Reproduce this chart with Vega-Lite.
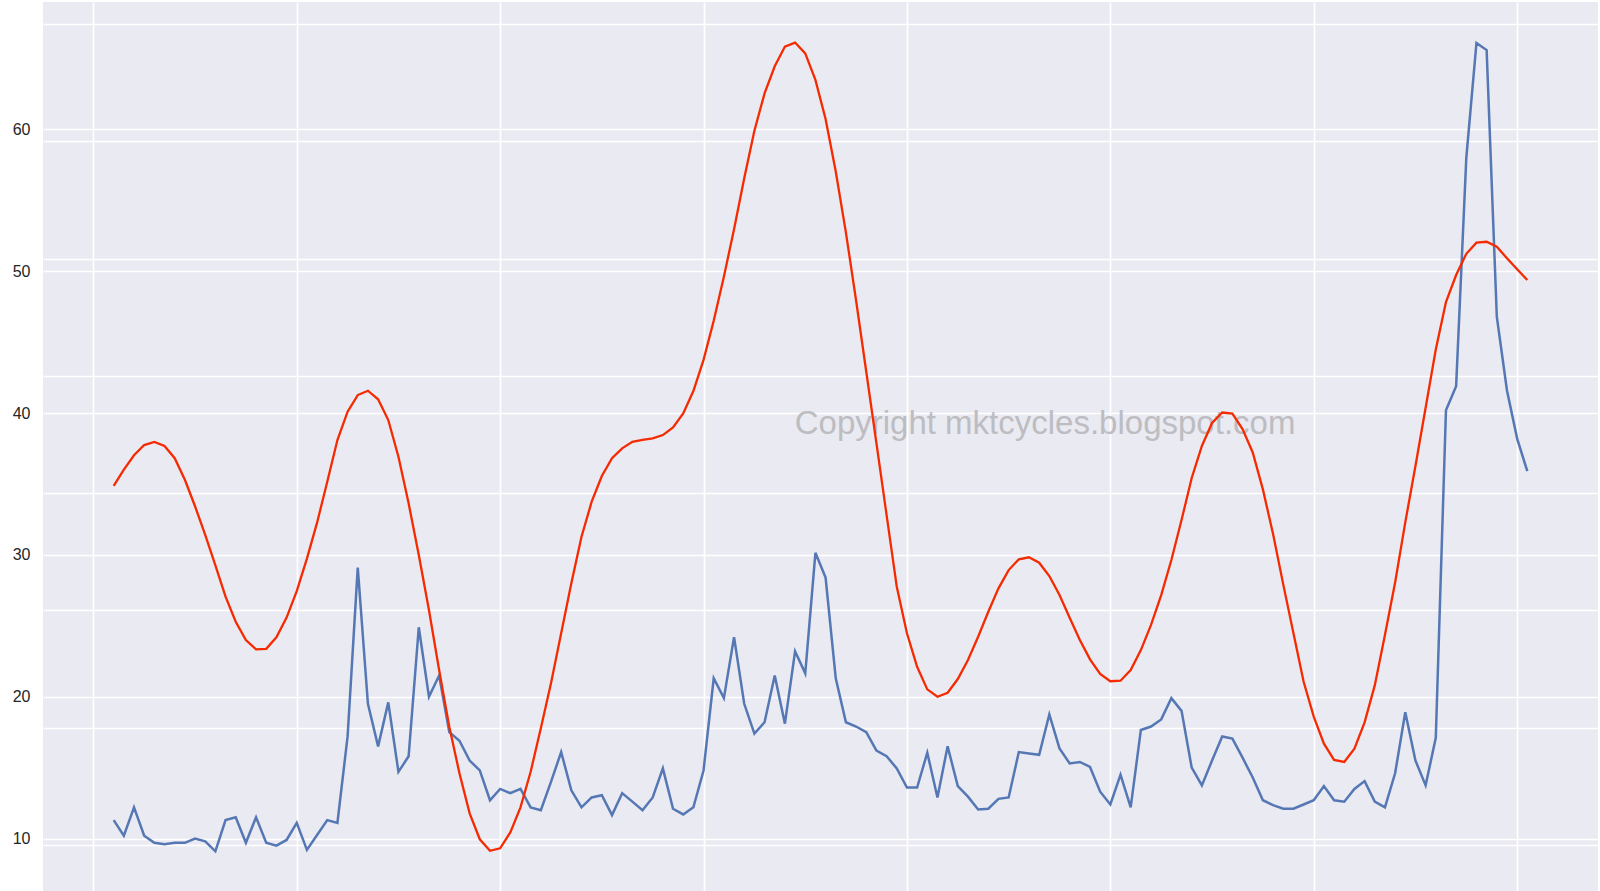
{
  "$schema": "https://vega.github.io/schema/vega-lite/v6.json",
  "width": 1555,
  "height": 889,
  "autosize": {"type": "none"},
  "padding": {"left": 43, "top": 2, "right": 0, "bottom": 0},
  "background": "white",
  "config": {
    "view": {"fill": "#EAEAF2", "stroke": null},
    "axis": {
      "grid": true,
      "gridColor": "#ffffff",
      "gridWidth": 1.7,
      "domain": false,
      "ticks": false,
      "labelFont": "Liberation Sans",
      "labelFontSize": 16,
      "labelColor": "#262626",
      "title": null
    }
  },
  "data": {
    "values": [
      {"idx": 2, "value": 11.3, "cycle": 30.62},
      {"idx": 3, "value": 10.2, "cycle": 32.01},
      {"idx": 4, "value": 12.2, "cycle": 33.23},
      {"idx": 5, "value": 10.2, "cycle": 34.10},
      {"idx": 6, "value": 9.7, "cycle": 34.36},
      {"idx": 7, "value": 9.6, "cycle": 34.02},
      {"idx": 8, "value": 9.7, "cycle": 32.98},
      {"idx": 9, "value": 9.7, "cycle": 31.14},
      {"idx": 10, "value": 10.0, "cycle": 28.88},
      {"idx": 11, "value": 9.8, "cycle": 26.45},
      {"idx": 12, "value": 9.1, "cycle": 23.84},
      {"idx": 13, "value": 11.3, "cycle": 21.17},
      {"idx": 14, "value": 11.5, "cycle": 19.04},
      {"idx": 15, "value": 9.7, "cycle": 17.48},
      {"idx": 16, "value": 11.5, "cycle": 16.68},
      {"idx": 17, "value": 9.7, "cycle": 16.73},
      {"idx": 18, "value": 9.5, "cycle": 17.71},
      {"idx": 19, "value": 9.9, "cycle": 19.39},
      {"idx": 20, "value": 11.1, "cycle": 21.65},
      {"idx": 21, "value": 9.2, "cycle": 24.42},
      {"idx": 22, "value": 10.25, "cycle": 27.48},
      {"idx": 23, "value": 11.3, "cycle": 30.97},
      {"idx": 24, "value": 11.1, "cycle": 34.53},
      {"idx": 25, "value": 17.2, "cycle": 36.94},
      {"idx": 26, "value": 29.1, "cycle": 38.36},
      {"idx": 27, "value": 19.5, "cycle": 38.73},
      {"idx": 28, "value": 16.5, "cycle": 38.00},
      {"idx": 29, "value": 19.6, "cycle": 36.23},
      {"idx": 30, "value": 14.7, "cycle": 33.10},
      {"idx": 31, "value": 15.8, "cycle": 29.13},
      {"idx": 32, "value": 24.9, "cycle": 24.72},
      {"idx": 33, "value": 20.0, "cycle": 20.03},
      {"idx": 34, "value": 21.5, "cycle": 14.92},
      {"idx": 35, "value": 17.5, "cycle": 10.09},
      {"idx": 36, "value": 16.9, "cycle": 6.11},
      {"idx": 37, "value": 15.5, "cycle": 2.70},
      {"idx": 38, "value": 14.8, "cycle": 0.49},
      {"idx": 39, "value": 12.7, "cycle": -0.49},
      {"idx": 40, "value": 13.5, "cycle": -0.28},
      {"idx": 41, "value": 13.2, "cycle": 1.08},
      {"idx": 42, "value": 13.5, "cycle": 3.21},
      {"idx": 43, "value": 12.2, "cycle": 6.25},
      {"idx": 44, "value": 12.0, "cycle": 9.95},
      {"idx": 45, "value": 14.0, "cycle": 13.79},
      {"idx": 46, "value": 16.1, "cycle": 18.05},
      {"idx": 47, "value": 13.4, "cycle": 22.31},
      {"idx": 48, "value": 12.2, "cycle": 26.28},
      {"idx": 49, "value": 12.9, "cycle": 29.27},
      {"idx": 50, "value": 13.05, "cycle": 31.46},
      {"idx": 51, "value": 11.65, "cycle": 32.97},
      {"idx": 52, "value": 13.2, "cycle": 33.82},
      {"idx": 53, "value": 12.6, "cycle": 34.38},
      {"idx": 54, "value": 12.0, "cycle": 34.53},
      {"idx": 55, "value": 12.9, "cycle": 34.67},
      {"idx": 56, "value": 14.95, "cycle": 34.95},
      {"idx": 57, "value": 12.1, "cycle": 35.61},
      {"idx": 58, "value": 11.7, "cycle": 36.80},
      {"idx": 59, "value": 12.2, "cycle": 38.70},
      {"idx": 60, "value": 14.8, "cycle": 41.36},
      {"idx": 61, "value": 21.3, "cycle": 44.69},
      {"idx": 62, "value": 19.9, "cycle": 48.45},
      {"idx": 63, "value": 24.2, "cycle": 52.50},
      {"idx": 64, "value": 19.5, "cycle": 56.84},
      {"idx": 65, "value": 17.4, "cycle": 60.90},
      {"idx": 66, "value": 18.2, "cycle": 64.08},
      {"idx": 67, "value": 21.5, "cycle": 66.39},
      {"idx": 68, "value": 18.1, "cycle": 68.07},
      {"idx": 69, "value": 23.2, "cycle": 68.41},
      {"idx": 70, "value": 21.65, "cycle": 67.49},
      {"idx": 71, "value": 30.15, "cycle": 65.23},
      {"idx": 72, "value": 28.4, "cycle": 61.90},
      {"idx": 73, "value": 21.3, "cycle": 57.42},
      {"idx": 74, "value": 18.2, "cycle": 52.21},
      {"idx": 75, "value": 17.9, "cycle": 46.42},
      {"idx": 76, "value": 17.5, "cycle": 40.35},
      {"idx": 77, "value": 16.2, "cycle": 34.27},
      {"idx": 78, "value": 15.8, "cycle": 28.13},
      {"idx": 79, "value": 14.95, "cycle": 22.02},
      {"idx": 80, "value": 13.6, "cycle": 18.05},
      {"idx": 81, "value": 13.6, "cycle": 15.20},
      {"idx": 82, "value": 16.05, "cycle": 13.27},
      {"idx": 83, "value": 12.9, "cycle": 12.64},
      {"idx": 84, "value": 16.5, "cycle": 12.98},
      {"idx": 85, "value": 13.7, "cycle": 14.15},
      {"idx": 86, "value": 12.95, "cycle": 15.77},
      {"idx": 87, "value": 12.05, "cycle": 17.76},
      {"idx": 88, "value": 12.1, "cycle": 19.89},
      {"idx": 89, "value": 12.8, "cycle": 21.88},
      {"idx": 90, "value": 12.9, "cycle": 23.44},
      {"idx": 91, "value": 16.1, "cycle": 24.36},
      {"idx": 92, "value": 16.0, "cycle": 24.53},
      {"idx": 93, "value": 15.9, "cycle": 24.07},
      {"idx": 94, "value": 18.75, "cycle": 22.93},
      {"idx": 95, "value": 16.35, "cycle": 21.31},
      {"idx": 96, "value": 15.3, "cycle": 19.38},
      {"idx": 97, "value": 15.4, "cycle": 17.48},
      {"idx": 98, "value": 15.05, "cycle": 15.83},
      {"idx": 99, "value": 13.3, "cycle": 14.58},
      {"idx": 100, "value": 12.4, "cycle": 13.96},
      {"idx": 101, "value": 14.5, "cycle": 14.01},
      {"idx": 102, "value": 12.2, "cycle": 14.92},
      {"idx": 103, "value": 17.65, "cycle": 16.62},
      {"idx": 104, "value": 17.9, "cycle": 18.76},
      {"idx": 105, "value": 18.4, "cycle": 21.31},
      {"idx": 106, "value": 19.9, "cycle": 24.30},
      {"idx": 107, "value": 19.0, "cycle": 27.71},
      {"idx": 108, "value": 15.0, "cycle": 31.29},
      {"idx": 109, "value": 13.75, "cycle": 34.02},
      {"idx": 110, "value": 15.5, "cycle": 35.98},
      {"idx": 111, "value": 17.2, "cycle": 36.87},
      {"idx": 112, "value": 17.05, "cycle": 36.78},
      {"idx": 113, "value": 15.7, "cycle": 35.46},
      {"idx": 114, "value": 14.3, "cycle": 33.47},
      {"idx": 115, "value": 12.7, "cycle": 30.32},
      {"idx": 116, "value": 12.35, "cycle": 26.51},
      {"idx": 117, "value": 12.1, "cycle": 22.22},
      {"idx": 118, "value": 12.1, "cycle": 18.07},
      {"idx": 119, "value": 12.4, "cycle": 13.94},
      {"idx": 120, "value": 12.7, "cycle": 10.95},
      {"idx": 121, "value": 13.7, "cycle": 8.64},
      {"idx": 122, "value": 12.7, "cycle": 7.25},
      {"idx": 123, "value": 12.6, "cycle": 7.08},
      {"idx": 124, "value": 13.5, "cycle": 8.21},
      {"idx": 125, "value": 14.05, "cycle": 10.46},
      {"idx": 126, "value": 12.6, "cycle": 13.61},
      {"idx": 127, "value": 12.2, "cycle": 17.91},
      {"idx": 128, "value": 14.6, "cycle": 22.38},
      {"idx": 129, "value": 18.9, "cycle": 27.51},
      {"idx": 130, "value": 15.5, "cycle": 32.31},
      {"idx": 131, "value": 13.75, "cycle": 37.28},
      {"idx": 132, "value": 17.1, "cycle": 42.24},
      {"idx": 133, "value": 40.2, "cycle": 46.29},
      {"idx": 134, "value": 41.9, "cycle": 48.59},
      {"idx": 135, "value": 58.0, "cycle": 50.40},
      {"idx": 136, "value": 66.1, "cycle": 51.35},
      {"idx": 137, "value": 65.6, "cycle": 51.43},
      {"idx": 138, "value": 46.8, "cycle": 51.01},
      {"idx": 139, "value": 41.6, "cycle": 50.02},
      {"idx": 140, "value": 38.2, "cycle": 49.08},
      {"idx": 141, "value": 35.9, "cycle": 48.17}
    ]
  },
  "layer": [
    {
      "layer": [
        {
          "data": {"values": [{"note": "Copyright mktcycles.blogspot.com"}]},
          "mark": {
            "type": "text",
            "font": "Liberation Sans",
            "fontSize": 33,
            "color": "#bdbdc1",
            "align": "center",
            "baseline": "alphabetic"
          },
          "encoding": {
            "text": {"field": "note", "type": "nominal"},
            "x": {"datum": 93.58, "type": "quantitative"},
            "y": {"datum": 38.5, "type": "quantitative"}
          }
        },
        {
          "mark": {"type": "line", "color": "#5577b4", "strokeWidth": 2.5},
          "encoding": {
            "x": {
              "field": "idx",
              "type": "quantitative",
              "scale": {"domain": [-4.95, 147.95], "nice": false, "zero": false},
              "axis": {"values": [0, 20, 40, 60, 80, 100, 120, 140], "labels": false, "title": null, "grid": true}
            },
            "y": {
              "field": "value",
              "type": "quantitative",
              "scale": {"domain": [6.30, 68.99], "nice": false, "zero": false},
              "axis": {"values": [10, 20, 30, 40, 50, 60], "labelPadding": 13, "title": null, "grid": true}
            }
          }
        }
      ]
    },
    {
      "mark": {"type": "line", "color": "#f52a00", "strokeWidth": 2.3},
      "encoding": {
        "x": {"field": "idx", "type": "quantitative"},
        "y": {
          "field": "cycle",
          "type": "quantitative",
          "scale": {"domain": [-3.92, 71.87], "nice": false, "zero": false},
          "axis": {"orient": "right", "values": [0, 10, 20, 30, 40, 50, 60, 70], "labels": false, "title": null, "grid": true}
        }
      }
    }
  ],
  "resolve": {"scale": {"y": "independent"}}
}
